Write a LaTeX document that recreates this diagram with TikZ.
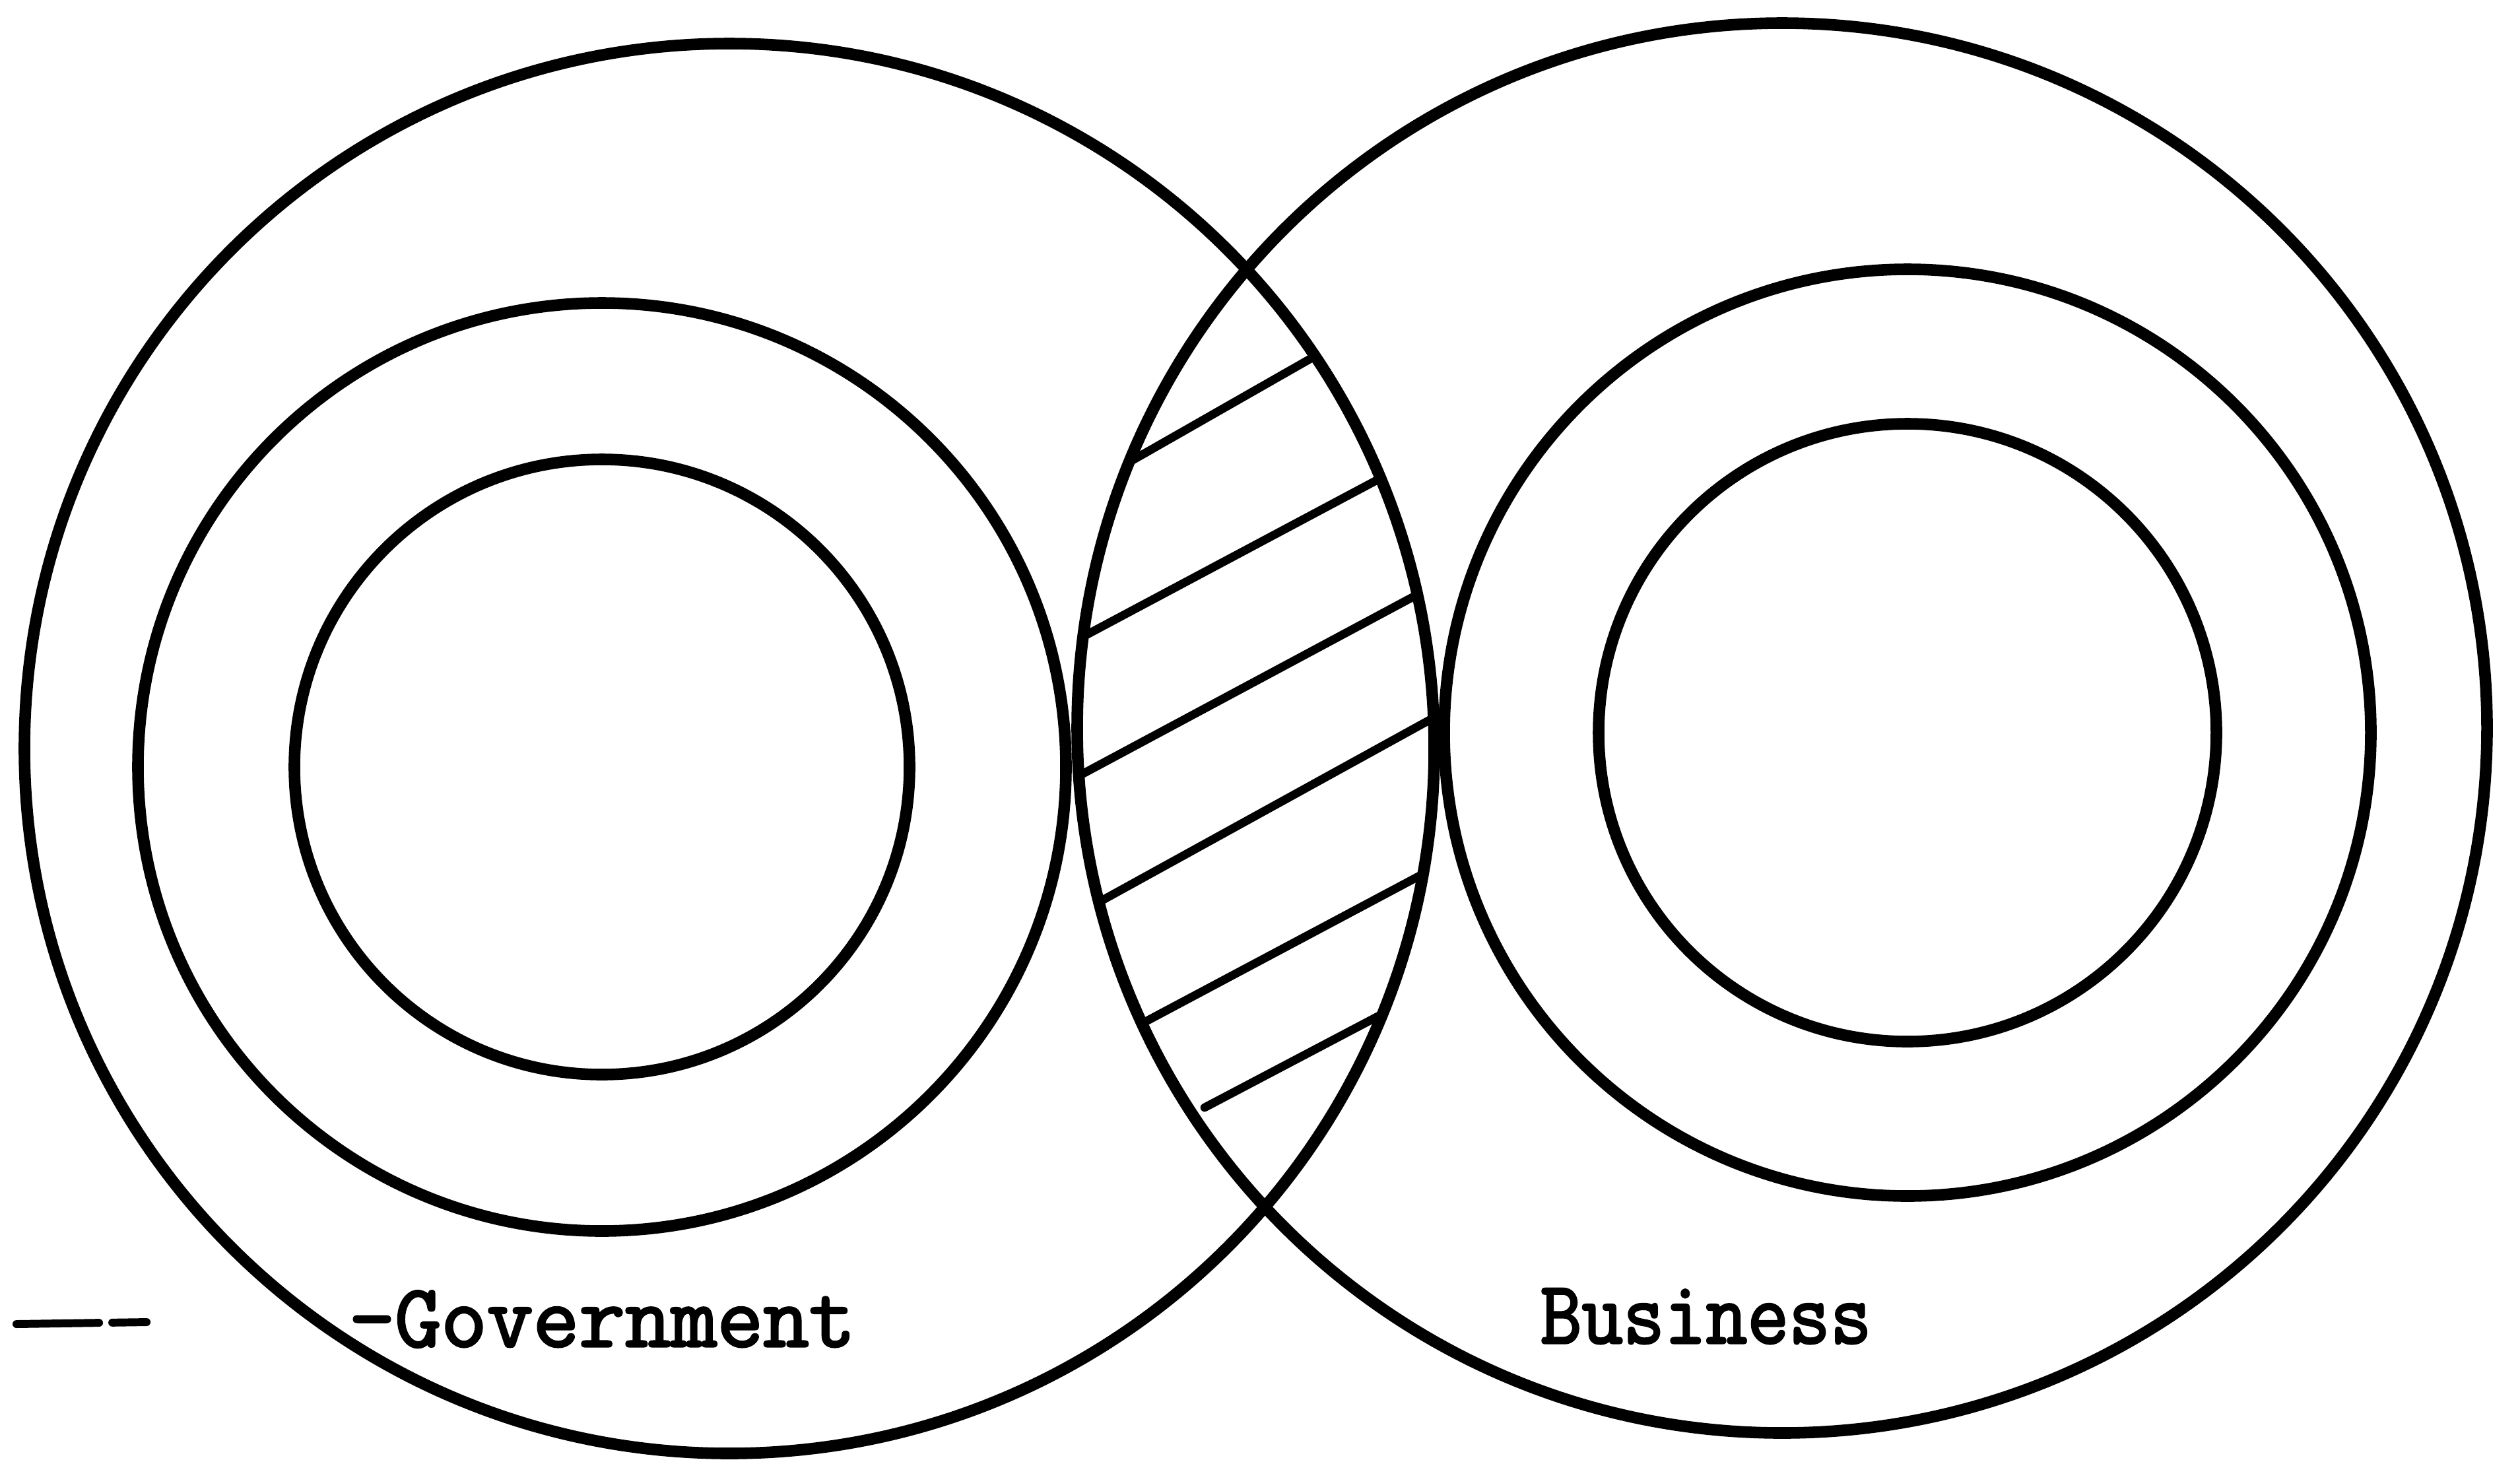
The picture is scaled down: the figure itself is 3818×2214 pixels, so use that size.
\documentclass[tikz,border=0pt]{standalone}
\usepackage{fontspec}
\newfontfamily\labelfont[FakeBold=2.5]{Latin Modern Mono}

\begin{document}
\begin{tikzpicture}[x=0.01cm, y=-0.01cm, line cap=round, line join=round,
    ring/.style={line width=5pt},
    hatch/.style={line width=3.6pt},
    tag/.style={anchor=base west, inner sep=0pt, font=\labelfont\fontsize{38.5}{40}\selectfont}]
  \useasboundingbox (0,0) rectangle (3818,2214);

  \coordinate (gov) at (1105,1134);
  \coordinate (govin) at (912,1162);
  \coordinate (bus) at (2700,1103);
  \coordinate (busin) at (2890,1110);

  % government rings
  \draw[ring] (gov) circle[radius=1068];
  \draw[ring] (govin) circle[radius=703];
  \draw[ring] (govin) circle[radius=466];

  % business rings
  \draw[ring] (bus) circle[radius=1068];
  \draw[ring] (busin) circle[radius=702];
  \draw[ring] (busin) circle[radius=468];

  % shared area
  \begin{scope}
    \clip (gov) circle[radius=1068];
    \clip (bus) circle[radius=1068];
    \draw[hatch] (1690,712) -- (2030,518);
    \draw[hatch] (1610,981) -- (2130,704);
    \draw[hatch] (1600,1194) -- (2190,878);
    \draw[hatch] (1630,1386) -- (2220,1061);
    \draw[hatch] (1690,1572) -- (2190,1306);
    \draw[hatch] (1825,1678) -- (2110,1528);
  \end{scope}

  \coordinate (lead) at (25,2006);
  \draw[line width=3.4pt, dash pattern={on 1.25cm off 0.2cm on 0.52cm}] (lead) -- ++(198,-3);

  \node[tag] (govlabel) at (528,2040) {-Government};
  \node[tag, xscale=0.9] (buslabel) at (2333,2035) {Business};
\end{tikzpicture}
\end{document}
